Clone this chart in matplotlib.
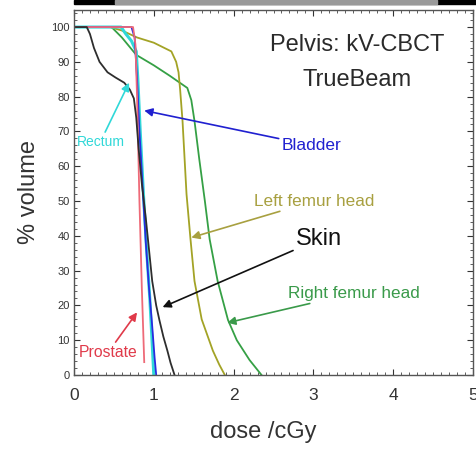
import matplotlib
matplotlib.use("Agg")
import matplotlib.pyplot as plt
from matplotlib import font_manager
from matplotlib.patches import Rectangle
from matplotlib.ticker import MultipleLocator

# Dose-volume histograms (dose in cGy, % volume)
skin_dose = [0, 0.16, 0.2, 0.25, 0.32, 0.42, 0.52, 0.63, 0.7, 0.75, 0.78, 0.81, 0.85, 0.9, 0.98, 1.03, 1.07, 1.12, 1.17, 1.21, 1.26]
skin_vol = [100, 100, 98, 94, 90, 87, 85.5, 84, 82, 79.5, 74, 65, 55, 45, 27, 20, 15.8, 11, 7, 3.5, 0]

bladder_dose = [0, 0.72, 0.76, 0.79, 0.82, 0.86, 0.9, 0.94, 0.98, 1.01, 1.03]
bladder_vol = [100, 100, 97, 85, 70, 54, 38, 25, 14, 5, 0]

rectum_dose = [0, 0.59, 0.65, 0.72, 0.78, 0.8, 0.83, 0.87, 0.91, 0.95, 0.98, 1.0]
rectum_vol = [100, 100, 98, 96, 93, 85, 70, 52, 36, 22, 9, 0]

prostate_dose = [0, 0.74, 0.77, 0.79, 0.82, 0.85, 0.88]
prostate_vol = [100, 100, 95, 80, 50, 25, 3.7]

lfemur_dose = [0, 0.45, 0.6, 0.79, 1.0, 1.22, 1.28, 1.31, 1.33, 1.36, 1.41, 1.46, 1.51, 1.6, 1.74, 1.82, 1.89]
lfemur_vol = [100, 100, 99, 97, 95.5, 93, 90, 87, 82, 73, 52, 39, 27, 16, 7, 3, 0]

rfemur_dose = [0, 0.47, 0.6, 0.78, 1.0, 1.2, 1.42, 1.47, 1.51, 1.57, 1.64, 1.7, 1.8, 1.93, 2.04, 2.2, 2.35]
rfemur_vol = [100, 100, 97, 92, 89, 86, 82.5, 79, 73, 62, 50, 39, 27, 15.8, 10, 4.3, 0]

x_ticks = [0, 1, 2, 3, 4, 5]
y_ticks = [0, 10, 20, 30, 40, 50, 60, 70, 80, 90, 100]

installed = {f.name for f in font_manager.fontManager.ttflist}
narrow = "Liberation Sans Narrow" if "Liberation Sans Narrow" in installed else "Liberation Sans"
plt.rcParams["font.family"] = ["Liberation Sans", "DejaVu Sans"]

fig = plt.figure(figsize=(4.77, 4.54), dpi=100)
ax = fig.add_axes([74 / 477, 1 - 375 / 454, (473 - 74) / 477, (375 - 10) / 454])

# thin dark strip along the top edge
fig.patches.append(Rectangle((74 / 477, 450 / 454), 1, 4 / 454, transform=fig.transFigure,
                             color="black", zorder=5))
fig.patches.append(Rectangle((115 / 477, 450 / 454), (437 - 115) / 477, 4 / 454,
                             transform=fig.transFigure, color="#9a9a9a", zorder=6))

ax.plot(rfemur_dose, rfemur_vol, color="#35a045", lw=1.3)
ax.plot(lfemur_dose, lfemur_vol, color="#a3a326", lw=1.3)
ax.plot(rectum_dose, rectum_vol, color="#30d8d8", lw=2.2)
ax.plot(bladder_dose, bladder_vol, color="#2a2ae0", lw=1.3)
ax.plot(prostate_dose, prostate_vol, color="#ee6a78", lw=1.3)
ax.plot(skin_dose, skin_vol, color="#2e2e2e", lw=1.3)

ax.set_xlim(0, 5)
ax.set_ylim(0, 104.9)
ax.set_xticks(x_ticks)
ax.set_yticks(y_ticks)
ax.xaxis.set_minor_locator(MultipleLocator(0.1))
ax.yaxis.set_minor_locator(MultipleLocator(2))
ax.tick_params(which="both", direction="in", top=True, right=True, color="#444444")
ax.tick_params(which="major", length=4, width=0.8)
ax.tick_params(which="minor", length=2, width=0.6)
ax.tick_params(axis="x", labelsize=12.5, colors="#333333", pad=9)
ax.tick_params(axis="y", labelsize=8, colors="#333333", pad=3)
for lbl in ax.get_yticklabels():
    lbl.set_family([narrow, "DejaVu Sans"])
for s in ax.spines.values():
    s.set_color("#555555")
    s.set_linewidth(1.0)

ax.set_xlabel("dose /cGy", fontsize=17, color="#333333")
ax.xaxis.set_label_coords(0.474, -0.125)
ax.set_ylabel("% volume", fontsize=17, color="#333333", labelpad=8)

ax.text(3.55, 94.8, "Pelvis: kV-CBCT", fontsize=17, ha="center", va="center",
        color="#2a2a2a", family=[narrow, "DejaVu Sans"])
ax.text(3.55, 84.8, "TrueBeam", fontsize=17, ha="center", va="center",
        color="#2a2a2a", family=[narrow, "DejaVu Sans"])


def label(text, xy, xytext, color, size=12):
    ax.annotate(text, xy=xy, xytext=xytext, fontsize=size, color=color, ha="left", va="center",
                family=[narrow, "DejaVu Sans"],
                arrowprops=dict(arrowstyle="-|>", color=color, lw=1.2, mutation_scale=12,
                                shrinkA=0, shrinkB=0))


label("Rectum", (0.69, 84), (0.03, 67), "#30d8d8", size=10)
label("Bladder", (0.88, 76), (2.6, 66), "#2020d0", size=12.5)
label("Left femur head", (1.47, 39.5), (2.26, 50), "#a8a040", size=12.3)
label("Skin", (1.11, 19.5), (2.78, 39), "#111111", size=17)
label("Right femur head", (1.92, 15), (2.68, 23.5), "#3a9a4a", size=12.3)
label("Prostate", (0.79, 18), (0.06, 6.5), "#e03a4a", size=11.3)

fig.savefig("out.png", dpi=100)
